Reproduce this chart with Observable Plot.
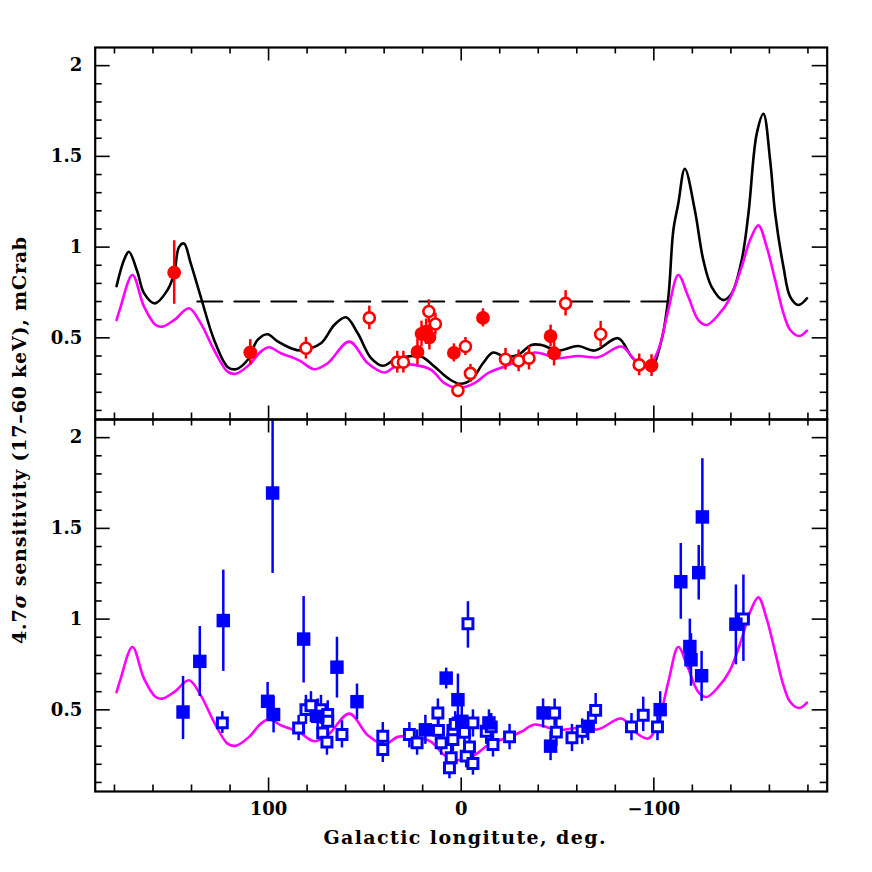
<!DOCTYPE html>
<html><head><meta charset="utf-8">
<script src="https://cdn.jsdelivr.net/npm/d3@7"></script>
<script src="https://cdn.jsdelivr.net/npm/@observablehq/plot@0.6"></script>
<style>
body{margin:0;background:#fff;}
#chart{position:relative;width:872px;height:872px;}
</style></head><body><div id="chart"></div>
<script>
// ---- Sensitivity curves (Galactic longitude, mCrab) ----
const blackLon = [178.9,175,172.5,168.1,164.6,159,152.5,149,146.5,143.9,140.4,135.2,128.3,121.3,117,110.9,105.7,100.5,95.3,88.4,83.2,72.8,65.9,59.8,53.7,46.8,40.7,34.7,27.7,20.8,13.9,6.9,0.9,-5.2,-11.3,-16.5,-22.5,-29.5,-36.4,-41.6,-50.3,-60.7,-69.3,-81.5,-88.4,-93.6,-98.8,-104,-107.5,-110.1,-112.7,-116.1,-121.3,-125.7,-130,-136.1,-140.4,-145.6,-149.1,-153.4,-156.9,-160.4,-163,-167.3,-170.8,-175.1,-179.5];
const blackVal = [0.785,0.93,0.974,0.864,0.745,0.69,0.763,0.855,1.0,1.02,0.91,0.726,0.49,0.34,0.327,0.378,0.489,0.52,0.48,0.443,0.43,0.47,0.571,0.613,0.525,0.388,0.346,0.379,0.397,0.397,0.342,0.278,0.247,0.269,0.36,0.419,0.397,0.406,0.461,0.461,0.43,0.455,0.43,0.498,0.397,0.351,0.342,0.488,0.72,1.09,1.24,1.432,1.203,0.928,0.781,0.708,0.745,0.928,1.184,1.624,1.734,1.477,1.184,0.891,0.726,0.681,0.718];

const magentaLon = [178.9,176.8,170.7,164.6,158.6,155.1,149,141.3,135.2,128.3,121.3,117,110.1,104,99.7,93.6,86.7,83.2,76.3,69.3,58.1,48.5,39.9,32.9,24.3,15.6,8.7,1.7,-6.9,-13.9,-22.5,-31.2,-38.1,-50.3,-60.7,-71.1,-83.2,-90.1,-97.1,-102.3,-107.5,-112.7,-117.9,-123.1,-127.4,-133.5,-139.5,-145.6,-149.9,-154.3,-158.6,-163,-167.3,-170.8,-175.5,-179.5];
const magentaVal = [0.598,0.671,0.846,0.671,0.571,0.562,0.598,0.663,0.58,0.433,0.314,0.302,0.351,0.424,0.448,0.415,0.388,0.37,0.327,0.36,0.479,0.36,0.309,0.351,0.351,0.324,0.25,0.223,0.25,0.305,0.342,0.379,0.419,0.388,0.4,0.393,0.452,0.379,0.342,0.433,0.653,0.846,0.726,0.598,0.571,0.626,0.718,0.891,1.038,1.12,1.001,0.818,0.635,0.543,0.51,0.54];

const limitLon = [137, -107];
const limitVal = [0.7, 0.7];

// ---- Top panel: red sources ----
const redFilledLon = [149,109.5,22.7,20.6,18.2,16.5,3.8,-11.3,-46.4,-48.2,-98.8];
const redFilledVal = [0.86,0.42,0.422,0.522,0.534,0.503,0.417,0.61,0.51,0.415,0.347];
const redFilledErr = [0.175,0.07,0.07,0.07,0.07,0.07,0.05,0.05,0.06,0.07,0.06];

const redOpenLon = [80.6,47.7,33.2,30.0,16.8,13.4,-2.2,-4.8,1.7,-23,-29.8,-35.2,-54.2,-72.4,-92.4];
const redOpenVal = [0.443,0.61,0.366,0.366,0.645,0.576,0.452,0.304,0.21,0.382,0.373,0.388,0.69,0.52,0.351];
const redOpenErr = [0.06,0.065,0.06,0.06,0.065,0.06,0.05,0.05,0.04,0.06,0.06,0.065,0.07,0.07,0.06];

// ---- Bottom panel: blue sources ----
const blueFilledLon = [144.4,135.7,123.5,100.5,97.9,97.4,81.8,74.5,64.5,54.1,18.6,7.8,1.7,-0.3,-14.4,-42.5,-46.4,-65.9,-103.3,-114,-118.7,-119.3,-123.3,-125.2,-124.8,-142.6];
const blueFilledVal = [0.488,0.767,0.992,0.547,1.695,0.474,0.89,0.464,0.735,0.545,0.39,0.675,0.556,0.437,0.428,0.483,0.3,0.409,0.501,1.206,0.849,0.776,1.256,1.563,0.688,0.972];
const blueFilledLo  = [0.336,0.574,0.712,0.446,1.252,0.373,0.648,0.38,0.565,0.446,0.31,0.615,0.446,0.35,0.35,0.4,0.22,0.33,0.42,0.999,0.72,0.63,1.105,1.252,0.547,0.748];
const blueFilledHi  = [0.684,0.959,1.27,0.651,2.1,0.574,1.124,0.56,0.9,0.642,0.47,0.73,0.697,0.52,0.5,0.56,0.38,0.49,0.6,1.417,1.0,0.92,1.406,1.884,0.822,1.188];

const blueOpenLon = [124,84.4,80.6,78,72.8,69.3,69.3,71.9,69.7,61.9,40.7,40.7,26.9,22.9,12.1,11.8,10.4,4.3,4.3,5.2,6.1,3.1,-1.7,-2.6,-4.3,-6.1,-6.1,-3.5,-13,-15.6,-16.5,-25.1,-48.5,-49.4,-57.5,-62.8,-69.8,-88.4,-94.5,-101.9,-146.5];
const blueOpenVal = [0.428,0.4,0.501,0.523,0.501,0.474,0.437,0.373,0.322,0.364,0.354,0.281,0.364,0.318,0.483,0.387,0.318,0.387,0.336,0.236,0.18,0.42,0.376,0.245,0.296,0.428,0.204,0.974,0.382,0.406,0.309,0.351,0.483,0.377,0.346,0.382,0.497,0.406,0.47,0.406,1.001];
const blueOpenLo  = [0.37,0.33,0.42,0.43,0.42,0.39,0.36,0.3,0.25,0.29,0.28,0.21,0.29,0.25,0.41,0.31,0.25,0.32,0.27,0.17,0.12,0.35,0.31,0.18,0.23,0.35,0.14,0.84,0.31,0.33,0.24,0.28,0.41,0.3,0.27,0.31,0.42,0.33,0.38,0.33,0.767];
const blueOpenHi  = [0.49,0.47,0.58,0.6,0.58,0.55,0.51,0.44,0.39,0.44,0.43,0.35,0.43,0.39,0.56,0.46,0.39,0.46,0.41,0.3,0.24,0.49,0.45,0.31,0.36,0.5,0.27,1.096,0.45,0.48,0.38,0.42,0.56,0.45,0.42,0.45,0.59,0.48,0.57,0.48,1.243];

// ---- Axes ----
const xMajor = [100, 0, -100];
const xMinor = [180,160,140,120,80,60,40,20,-20,-40,-60,-80,-120,-140,-160,-180];
const yMajor = [0.5, 1, 1.5, 2];
const yMinor = [0.1,0.2,0.3,0.4,0.6,0.7,0.8,0.9,1.1,1.2,1.3,1.4,1.6,1.7,1.8,1.9];
const xTitle = "Galactic longitute, deg.";
const panels = ["top", "bottom"];

// ---- build tables ----
const zip = (xs, ys) => xs.map((x, i) => ({lon: x, v: ys[i]}));
const blackCurve = zip(blackLon, blackVal);
const magentaCurve = zip(magentaLon, magentaVal);
const limitLine = zip(limitLon, limitVal);
const redFilled = redFilledLon.map((x,i)=>({lon:x, v:redFilledVal[i], lo:redFilledVal[i]-redFilledErr[i], hi:redFilledVal[i]+redFilledErr[i]}));
const redOpen = redOpenLon.map((x,i)=>({lon:x, v:redOpenVal[i], lo:redOpenVal[i]-redOpenErr[i], hi:redOpenVal[i]+redOpenErr[i]}));
const blueFilled = blueFilledLon.map((x,i)=>({lon:x, v:blueFilledVal[i], lo:blueFilledLo[i], hi:blueFilledHi[i]}));
const blueOpen = blueOpenLon.map((x,i)=>({lon:x, v:blueOpenVal[i], lo:blueOpenLo[i], hi:blueOpenHi[i]}));

const W = 872, H = 872, mt = 46.7, mb = 80.3, ml = 94.7, mr = 45.3;
const fh = (H - mt - mb) / 2, fw = W - ml - mr;
const TOP = () => "top", BOT = () => "bottom";
const fmt = d => d < 0 ? "\u2212" + (-d) : String(d);
const tickStyle = {stroke: "black", strokeWidth: 1.6};
const FONT = "'DejaVu Serif', serif";

const chart = Plot.plot({
  width: W, height: H,
  marginTop: mt, marginBottom: mb, marginLeft: ml, marginRight: mr,
  x: {domain: [190, -190], axis: null},
  y: {domain: [0.05, 2.1], axis: null},
  fy: {domain: panels, axis: null, padding: 0},
  style: {fontFamily: FONT, fontSize: "18px", fontWeight: "bold", background: "white", color: "black", overflow: "visible"},
  marks: [
    // curves
    Plot.line(blackCurve, {x: "lon", y: "v", fy: TOP, stroke: "black", strokeWidth: 2.6, curve: "catmull-rom"}),
    Plot.line(magentaCurve, {x: "lon", y: "v", stroke: "#ff00ff", strokeWidth: 2.6, curve: "catmull-rom"}),
    Plot.line(limitLine, {x: "lon", y: "v", fy: TOP, stroke: "black", strokeWidth: 2, strokeDasharray: "25,12"}),
    // top panel sources
    Plot.ruleX(redFilled, {x: "lon", y1: "lo", y2: "hi", fy: TOP, stroke: "red", strokeWidth: 2.5}),
    Plot.ruleX(redOpen, {x: "lon", y1: "lo", y2: "hi", fy: TOP, stroke: "red", strokeWidth: 2.5}),
    Plot.dot(redOpen, {x: "lon", y: "v", fy: TOP, r: 5.5, fill: "white", stroke: "red", strokeWidth: 2.6}),
    Plot.dot(redFilled, {x: "lon", y: "v", fy: TOP, r: 6.9, fill: "red", stroke: "none"}),
    // bottom panel sources
    Plot.ruleX(blueFilled, {x: "lon", y1: "lo", y2: "hi", fy: BOT, stroke: "blue", strokeWidth: 2.5}),
    Plot.ruleX(blueOpen, {x: "lon", y1: "lo", y2: "hi", fy: BOT, stroke: "blue", strokeWidth: 2.5}),
    Plot.dot(blueOpen, {x: "lon", y: "v", fy: BOT, symbol: "square", r: 5.6, fill: "white", stroke: "blue", strokeWidth: 3}),
    Plot.dot(blueFilled, {x: "lon", y: "v", fy: BOT, symbol: "square", r: 7.6, fill: "blue", stroke: "none"}),
    // ticks (inward) on every side of each panel
    Plot.ruleX(xMajor, {x: d => d, insetTop: fh - 14, ...tickStyle}),
    Plot.ruleX(xMajor, {x: d => d, insetBottom: fh - 14, ...tickStyle}),
    Plot.ruleX(xMinor, {x: d => d, insetTop: fh - 7, ...tickStyle}),
    Plot.ruleX(xMinor, {x: d => d, insetBottom: fh - 7, ...tickStyle}),
    Plot.ruleY(yMajor, {y: d => d, insetRight: fw - 15, ...tickStyle}),
    Plot.ruleY(yMajor, {y: d => d, insetLeft: fw - 15, ...tickStyle}),
    Plot.ruleY(yMinor, {y: d => d, insetRight: fw - 7, ...tickStyle}),
    Plot.ruleY(yMinor, {y: d => d, insetLeft: fw - 7, ...tickStyle}),
    Plot.frame({stroke: "black", strokeWidth: 2.2}),
    // tick labels
    Plot.text(yMajor, {y: d => d, text: d => String(d), frameAnchor: "left", textAnchor: "end", dx: -13, fill: "black"}),
    Plot.text(xMajor, {x: d => d, fy: BOT, text: fmt, frameAnchor: "bottom", dy: 23, fill: "black"}),
    Plot.text([xTitle], {fy: BOT, text: d => d, frameAnchor: "bottom", dy: 52, fill: "black", fontSize: 19, dx: 4})
  ]
});
document.getElementById("chart").appendChild(chart);

const svg = d3.select(chart.tagName.toLowerCase() === "svg" ? chart : chart.querySelector("svg"));
// widen the x title spacing a little
svg.selectAll("text").filter(function() { return this.textContent === xTitle; }).style("letter-spacing", "1.4px");

// y-axis title spanning both panels
const yt = svg.append("text")
  .attr("transform", "translate(21,440) rotate(-90)")
  .attr("text-anchor", "middle")
  .attr("dominant-baseline", "middle")
  .attr("fill", "black")
  .style("font-family", FONT)
  .style("font-size", "19px")
  .style("font-weight", "bold")
  .style("letter-spacing", "0.8px");
yt.append("tspan").text("4.7");
yt.append("tspan").style("font-style", "italic").text("\u03c3");
yt.append("tspan").text(" sensitivity (17\u201360 keV), mCrab");
</script></body></html>
